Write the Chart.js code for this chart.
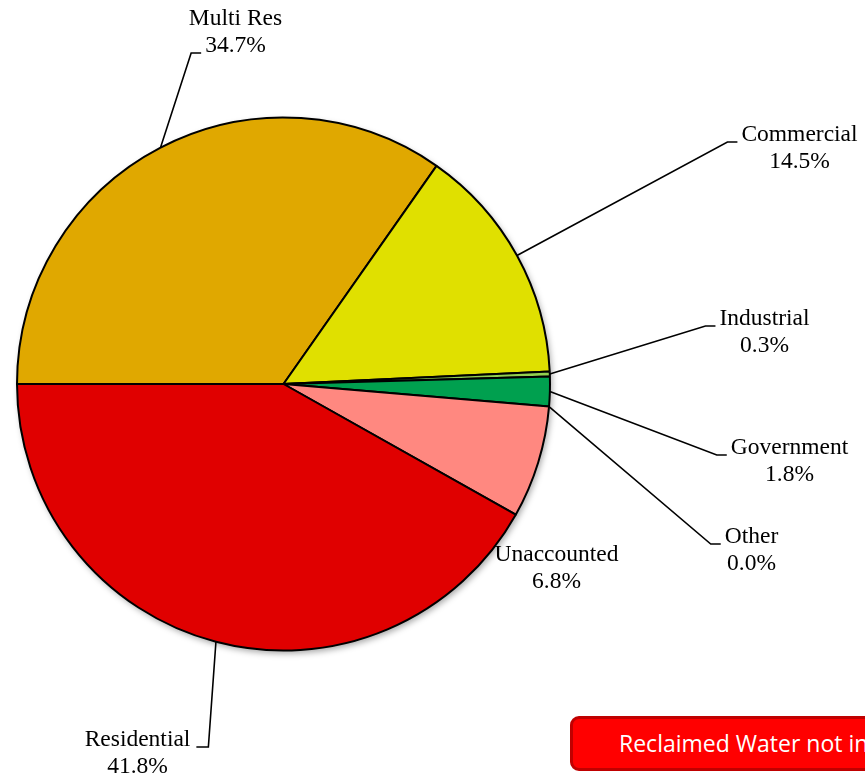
<!DOCTYPE html>
<html>
<head>
<meta charset="utf-8">
<title>Water use by customer class</title>
<script src="https://cdn.jsdelivr.net/npm/chart.js@4.4.0/dist/chart.umd.min.js"></script>
<style>
  html, body { margin: 0; padding: 0; background: #fff; overflow: hidden; }
  #wrap { position: relative; width: 865px; height: 780px; overflow: hidden; }
  #note {
    position: absolute; left: 570px; top: 716px; width: 460px; height: 55px;
    box-sizing: border-box; border: 3px solid #C00000; border-radius: 9px;
    background: #FF0000; color: #fff; white-space: nowrap;
    font: 23px "Open Sans", "Liberation Sans", sans-serif; line-height: 49px;
    padding-left: 46px;
  }
</style>
</head>
<body>
<div id="wrap">
  <canvas id="pie" width="865" height="780"></canvas>
  <div id="note">Reclaimed Water not included</div>
</div>
<script>
// --- Data ---
const categories = ['Multi Res', 'Commercial', 'Industrial', 'Government', 'Other', 'Unaccounted', 'Residential'];
const shares = [34.7, 14.5, 0.3, 1.8, 0.0, 6.8, 41.8];
const sliceColors = ['#E0A800', '#E0E000', '#92D050', '#00A04F', '#7030A0', '#FF8880', '#E00000'];

// --- Label placement (offsets from pie centre, px) ---
// side: which side of the text the leader meets, line: which text line it meets
const labelSpots = [
  { dx: -48, dy: -365, side: 'left', line: 1 },
  { dx: 516, dy: -249, side: 'left', line: 0 },
  { dx: 481, dy: -65, side: 'left', line: 0 },
  { dx: 506, dy: 64, side: 'left', line: 0 },
  { dx: 468, dy: 153, side: 'left', line: 0 },
  { dx: 273, dy: 171, side: null, line: 0 },
  { dx: -146, dy: 356, side: 'right', line: 0 },
];
const lineGap = 27;

const calloutLabels = {
  id: 'calloutLabels',
  beforeDatasetsDraw(chart) {
    // soft shadow under the whole pie
    const arc = chart.getDatasetMeta(0).data[0];
    const ctx = chart.ctx;
    ctx.save();
    ctx.shadowColor = 'rgba(0,0,0,0.35)';
    ctx.shadowBlur = 6;
    ctx.shadowOffsetX = 2;
    ctx.shadowOffsetY = 3;
    ctx.fillStyle = '#fff';
    ctx.beginPath();
    ctx.arc(arc.x, arc.y, arc.outerRadius, 0, Math.PI * 2);
    ctx.fill();
    ctx.restore();
  },
  afterDatasetsDraw(chart) {
    const ctx = chart.ctx;
    const arcs = chart.getDatasetMeta(0).data;
    ctx.save();
    ctx.font = '23.5px "Liberation Serif", "Times New Roman", serif';
    ctx.textAlign = 'center';
    ctx.textBaseline = 'middle';
    ctx.fillStyle = '#000';
    ctx.strokeStyle = '#000';
    ctx.lineWidth = 1.6;
    arcs.forEach((arc, i) => {
      const spot = labelSpots[i];
      const cx = arc.x + spot.dx;
      const cy = arc.y + spot.dy;
      const lines = [categories[i], shares[i].toFixed(1) + '%'];
      lines.forEach((t, k) => ctx.fillText(t, cx, cy + k * lineGap));
      if (!spot.side) return;

      // leader line: from the slice's outer edge to an elbow, then a short horizontal run
      const mid = (arc.startAngle + arc.endAngle) / 2;
      const sx = arc.x + Math.cos(mid) * arc.outerRadius;
      const sy = arc.y + Math.sin(mid) * arc.outerRadius;
      const w = ctx.measureText(lines[spot.line]).width;
      const ay = cy + spot.line * lineGap + 7;
      const ex = spot.side === 'left' ? cx - w / 2 - 4 : cx + w / 2 + 6;
      const kx = spot.side === 'left' ? ex - 10 : ex + 12;
      ctx.beginPath();
      ctx.moveTo(sx, sy);
      ctx.lineTo(kx, ay);
      ctx.lineTo(ex, ay);
      ctx.stroke();
    });
    ctx.restore();
  }
};

new Chart(document.getElementById('pie'), {
  type: 'pie',
  data: {
    labels: categories,
    datasets: [{
      data: shares,
      backgroundColor: sliceColors,
      borderColor: '#000',
      borderWidth: 2,
    }]
  },
  options: {
    responsive: false,
    animation: false,
    rotation: -90,
    layout: { padding: { left: 16, top: 116, right: 314, bottom: 128 } },
    plugins: {
      legend: { display: false },
      tooltip: { enabled: false }
    }
  },
  plugins: [calloutLabels]
});
</script>
</body>
</html>
